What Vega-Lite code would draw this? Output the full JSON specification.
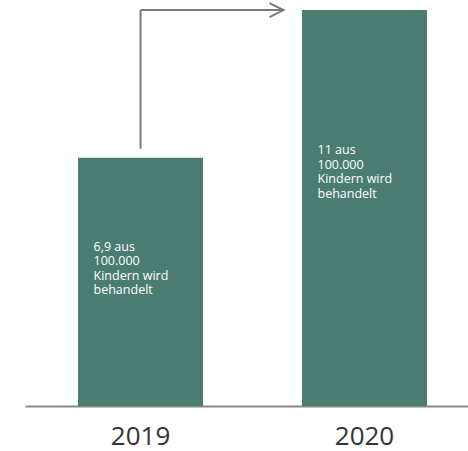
{
  "$schema": "https://vega.github.io/schema/vega-lite/v6.json",
  "width": 443,
  "height": 406,
  "autosize": {"type": "none"},
  "padding": {"left": 25, "top": 0, "right": 0, "bottom": 45},
  "background": "#ffffff",
  "config": {"view": {"stroke": null}},
  "datasets": {
    "bars": [
      {"year": "2019", "value": 6.9, "labelY": 4.31, "label": ["6,9 aus", "100.000", "Kindern wird", "behandelt"]},
      {"year": "2020", "value": 11, "labelY": 7.0, "label": ["11 aus", "100.000", "Kindern wird", "behandelt"]}
    ],
    "arrowV": [{"year": "2019", "from": 7.15, "to": 11}],
    "arrowH": [{"start": "2019", "end": "2020", "level": 11}]
  },
  "layer": [
    {
      "data": {"name": "bars"},
      "mark": {"type": "bar", "color": "#4a7c72"},
      "encoding": {
        "x": {
          "field": "year", "type": "nominal",
          "scale": {"paddingInner": 0.442, "paddingOuter": 0.21, "align": 0.564},
          "axis": {
            "title": null, "ticks": false, "labelAngle": 0,
            "domainColor": "#888888", "domainWidth": 2,
            "labelFont": "Open Sans", "labelFontSize": 26, "labelColor": "#333333",
            "labelBaseline": "alphabetic", "labelPadding": 38
          }
        },
        "y": {"field": "value", "type": "quantitative", "scale": {"domain": [0, 11.28], "nice": false}, "axis": null}
      }
    },
    {
      "data": {"name": "bars"},
      "mark": {"type": "text", "align": "left", "baseline": "alphabetic", "dx": -47, "color": "#ffffff", "font": "Open Sans", "fontSize": 12.5, "lineHeight": 14.5},
      "encoding": {
        "x": {"field": "year", "type": "nominal"},
        "y": {"field": "labelY", "type": "quantitative"},
        "text": {"field": "label"}
      }
    },
    {
      "data": {"name": "arrowV"},
      "mark": {"type": "rule", "color": "#7a7a7a", "strokeWidth": 2},
      "encoding": {
        "x": {"field": "year", "type": "nominal"},
        "y": {"field": "from", "type": "quantitative"},
        "y2": {"field": "to"}
      }
    },
    {
      "data": {"name": "arrowH"},
      "mark": {"type": "rule", "color": "#7a7a7a", "strokeWidth": 2, "x2Offset": -81},
      "encoding": {
        "x": {"field": "start", "type": "nominal"},
        "x2": {"field": "end"},
        "y": {"field": "level", "type": "quantitative"}
      }
    },
    {
      "data": {"name": "arrowH"},
      "mark": {"type": "point", "shape": "M-2,-1L0,0L-2,1", "size": 196, "filled": false, "stroke": "#7a7a7a", "strokeWidth": 2, "opacity": 1, "xOffset": -81},
      "encoding": {
        "x": {"field": "end", "type": "nominal"},
        "y": {"field": "level", "type": "quantitative"}
      }
    }
  ]
}
